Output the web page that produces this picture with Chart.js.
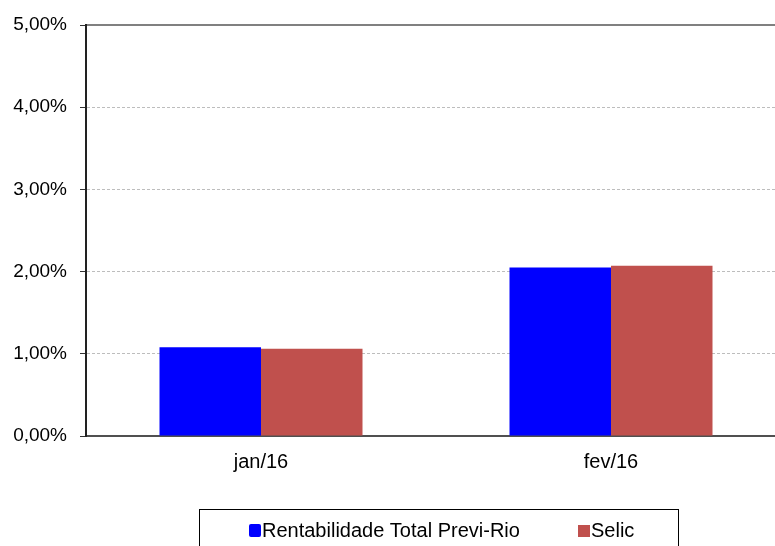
<!DOCTYPE html>
<html>
<head>
<meta charset="utf-8">
<script src="https://cdn.jsdelivr.net/npm/chart.js@4/dist/chart.umd.min.js"></script>
<style>
  html, body { margin: 0; padding: 0; background: #fff; }
  #clip { width: 775px; height: 546px; overflow: hidden; position: relative; }
  #wrap { width: 786px; height: 546px; }
</style>
</head>
<body>
<div id="clip"><div id="wrap"><canvas id="c" width="786" height="546"></canvas></div></div>
<script>
// Monthly accumulated returns (%)
const categories = ['jan/16', 'fev/16'];
const previRio = [1.08, 2.05];
const selic = [1.06, 2.07];
const yTicks = [0, 1, 2, 3, 4, 5];

const FONT = "'Liberation Sans', Arial, sans-serif";

const fmtPct = v => v.toFixed(2).replace('.', ',') + '%';

// Boxed legend drawn below the plot
const boxedLegend = {
  id: 'boxedLegend',
  afterDraw(chart) {
    const ctx = chart.ctx;
    const ds = chart.data.datasets;
    ctx.save();
    ctx.strokeStyle = '#000';
    ctx.lineWidth = 1;
    ctx.strokeRect(199.5, 509.5, 479, 60);
    ctx.font = '20px ' + FONT;
    ctx.textBaseline = 'alphabetic';
    const items = [
      { x: 249, y: 524, ds: ds[0], round: true },
      { x: 578, y: 525, ds: ds[1], round: false }
    ];
    items.forEach(it => {
      ctx.fillStyle = it.ds.backgroundColor;
      ctx.beginPath();
      if (it.round) ctx.roundRect(it.x, it.y, 12, 13, 2);
      else ctx.rect(it.x, it.y, 12, 12);
      ctx.fill();
      ctx.fillStyle = '#000';
      ctx.fillText(it.ds.label, it.x + 13, 537);
    });
    ctx.restore();
  }
};

new Chart(document.getElementById('c'), {
  type: 'bar',
  data: {
    labels: categories,
    datasets: [
      { label: 'Rentabilidade Total Previ-Rio', data: previRio, backgroundColor: '#0000FF', borderWidth: 0 },
      { label: 'Selic', data: selic, backgroundColor: '#C0504D', borderWidth: 0 }
    ]
  },
  options: {
    responsive: false,
    animation: false,
    devicePixelRatio: 1,
    layout: { padding: { top: 25, right: 0, bottom: 70, left: 0 } },
    datasets: { bar: { categoryPercentage: 0.58, barPercentage: 1.0 } },
    plugins: { legend: { display: false }, tooltip: { enabled: false } },
    scales: {
      x: {
        grid: { display: true, color: 'rgba(0,0,0,0)', drawTicks: false },
        border: { display: true, color: '#505050', width: 2 },
        ticks: { color: '#000', font: { family: FONT, size: 20 }, padding: 14 },
        afterFit(scale) { scale.height = 40; }
      },
      xTop: {
        position: 'top',
        grid: { display: false, drawTicks: false },
        ticks: { display: false },
        border: { display: true, color: '#808080', width: 2 },
        afterFit(scale) { scale.height = 0; }
      },
      y: {
        min: 0,
        max: 5,
        afterBuildTicks(scale) { scale.ticks = yTicks.map(v => ({ value: v })); },
        grid: {
          color: ctx => (ctx.tick && (ctx.tick.value === 0 || ctx.tick.value === 5)) ? 'rgba(0,0,0,0)' : '#bdbdbd',
          lineWidth: 1,
          tickLength: 6,
          tickColor: '#333',
          tickWidth: 1
        },
        border: { display: true, color: '#222', width: 2, dash: [3, 2] },
        ticks: {
          color: '#000',
          font: { family: FONT, size: 19 },
          padding: 13,
          callback: v => fmtPct(v)
        },
        afterFit(scale) { scale.width = 86; }
      }
    }
  },
  plugins: [boxedLegend]
});
</script>
</body>
</html>
